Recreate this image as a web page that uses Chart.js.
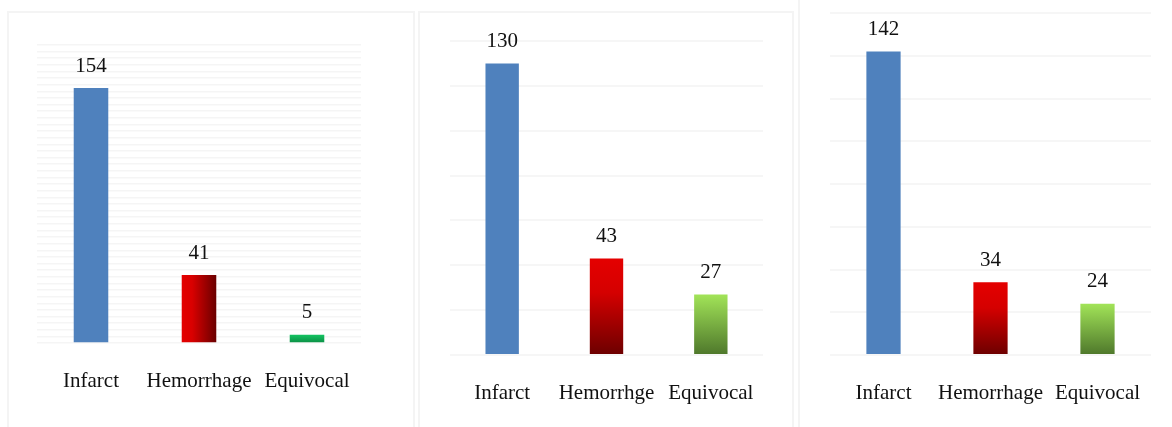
<!DOCTYPE html>
<html>
<head>
<meta charset="utf-8">
<script src="https://cdn.jsdelivr.net/npm/chart.js@4"></script>
<style>
  html, body { margin: 0; padding: 0; background: #fff; }
  #wrap { position: relative; width: 1172px; height: 427px; overflow: hidden; }
  .box { position: absolute; border: 2px solid #f4f4f4; box-sizing: border-box; }
  canvas { position: absolute; left: 0; top: 0; }
</style>
</head>
<body>
<div id="wrap">
  <div class="box" style="left:7px; top:11px; width:408px; height:430px;"></div>
  <div class="box" style="left:418px; top:11px; width:376px; height:430px;"></div>
  <div class="box" style="left:798px; top:-5px; width:400px; height:440px;"></div>
  <canvas id="c1" width="1172" height="427"></canvas>
  <canvas id="c2" width="1172" height="427"></canvas>
  <canvas id="c3" width="1172" height="427"></canvas>
</div>
<script>
// panel data
const labels1 = ['Infarct', 'Hemorrhage', 'Equivocal'];
const values1 = [154, 41, 5];
const labels2 = ['Infarct', 'Hemorrhge', 'Equivocal'];
const values2 = [130, 43, 27];
const labels3 = ['Infarct', 'Hemorrhage', 'Equivocal'];
const values3 = [142, 34, 24];

const FONT = "'Liberation Serif', 'Times New Roman', serif";

// draws the number above each bar
const valueLabels = {
  id: 'valueLabels',
  afterDatasetsDraw(chart) {
    const ctx = chart.ctx;
    const meta = chart.getDatasetMeta(0);
    ctx.save();
    ctx.font = '21px ' + FONT;
    ctx.fillStyle = '#111';
    ctx.textAlign = 'center';
    ctx.textBaseline = 'middle';
    meta.data.forEach((bar, i) => {
      ctx.fillText(chart.data.datasets[0].data[i], bar.x, bar.y - 22);
    });
    ctx.restore();
  }
};

function barColor(horizontalRed, greenTop, greenBottom) {
  return (c) => {
    const chart = c.chart;
    const area = chart.chartArea;
    if (!area) return '#4f81bd';
    const i = c.dataIndex;
    if (i === 0) return '#4f81bd';
    const g = chart.ctx;
    const yTop = chart.scales.y.getPixelForValue(c.raw);
    let grad;
    if (i === 1) {
      if (horizontalRed) {
        const x = chart.scales.x.getPixelForValue(i);
        const w = chart.scales.x.width / 3 * 0.32;
        grad = g.createLinearGradient(x - w / 2, 0, x + w / 2, 0);
        grad.addColorStop(0, '#e40000');
        grad.addColorStop(0.3, '#d90000');
        grad.addColorStop(1, '#6a0000');
      } else {
        grad = g.createLinearGradient(0, yTop, 0, area.bottom);
        grad.addColorStop(0, '#e40000');
        grad.addColorStop(0.35, '#d50000');
        grad.addColorStop(1, '#6c0000');
      }
      return grad;
    }
    grad = g.createLinearGradient(0, yTop, 0, area.bottom);
    grad.addColorStop(0, greenTop);
    grad.addColorStop(1, greenBottom);
    return grad;
  };
}

function makeChart(id, labels, values, opts) {
  return new Chart(document.getElementById(id), {
    type: 'bar',
    data: {
      labels: labels,
      datasets: [{
        data: values,
        backgroundColor: barColor(opts.horizontalRed, opts.greenTop, opts.greenBottom),
        borderWidth: 0,
        categoryPercentage: 1,
        barPercentage: 0.32
      }]
    },
    options: {
      responsive: false,
      animation: false,
      layout: {
        padding: { left: opts.left, right: 1172 - opts.right, top: opts.top, bottom: 0 }
      },
      plugins: { legend: { display: false }, tooltip: { enabled: false } },
      scales: {
        x: {
          grid: { display: false },
          border: { display: false },
          ticks: { color: '#111', font: { family: FONT, size: 21 }, padding: opts.labelPad, maxRotation: 0, autoSkip: false },
          afterFit: (s) => { s.height = 427 - opts.bottom; }
        },
        y: {
          min: 0,
          max: opts.max,
          ticks: { display: false, stepSize: opts.step },
          grid: { color: opts.gridColor, lineWidth: opts.gridWidth, drawTicks: false },
          border: { display: false },
          afterFit: (s) => { s.width = 0; }
        }
      }
    },
    plugins: [valueLabels]
  });
}

makeChart('c1', labels1, values1, {
  left: 37, right: 361, top: 45, bottom: 343, max: 180, step: 4, gridWidth: 1.5, gridColor: '#f5f5f5',
  labelPad: 18, horizontalRed: true, greenTop: '#14c462', greenBottom: '#0b8d44'
});
makeChart('c2', labels2, values2, {
  left: 450, right: 763, top: 41, bottom: 355, max: 140, step: 20, gridWidth: 2, gridColor: '#f6f6f6',
  labelPad: 18, horizontalRed: false, greenTop: '#a2e458', greenBottom: '#4e772b'
});
makeChart('c3', labels3, values3, {
  left: 830, right: 1151, top: 13, bottom: 355, max: 160, step: 20, gridWidth: 2, gridColor: '#f6f6f6',
  labelPad: 18, horizontalRed: false, greenTop: '#a2e458', greenBottom: '#4e772b'
});
</script>
</body>
</html>
